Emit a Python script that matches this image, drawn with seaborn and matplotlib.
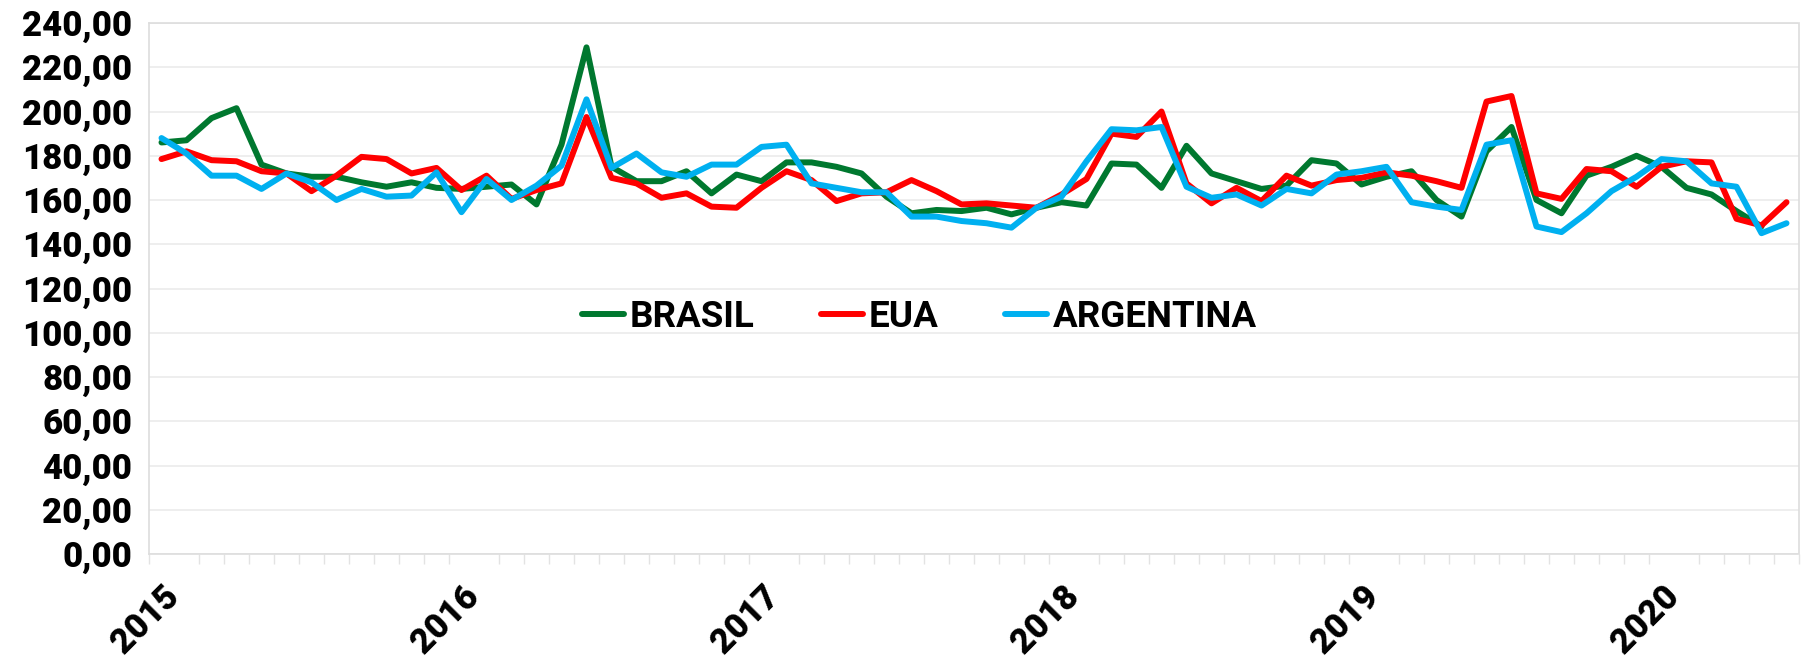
import numpy as np
import pandas as pd
import seaborn as sns
import matplotlib.pyplot as plt
from matplotlib.ticker import FuncFormatter, MultipleLocator

# monthly values, jan/2015 .. jun/2020
brasil = [186, 187, 197, 201.5, 176, 172, 170.5, 170.5, 168, 166, 168, 165.5,
          165, 166, 167, 158, 185, 229, 175, 168.5, 168.5, 173, 163, 171.5,
          168.5, 177, 177, 175, 172, 161.5, 154, 155.5, 155, 156.5, 153.5, 156.5,
          159, 157.5, 176.5, 176, 165.5, 184.5, 172, 168.5, 165, 166.5, 178, 176.5,
          167, 170.5, 173, 160, 152.5, 182, 193, 160, 154, 171, 175, 180,
          175, 165.5, 162.5, 155, 148, np.nan]
eua = [178.5, 182, 178, 177.5, 173, 172, 164, 171, 179.5, 178.5, 172, 174.5,
       164.5, 171, 160.5, 164.5, 167.5, 197.5, 170, 167.5, 161, 163, 157, 156.5,
       165.5, 173, 169, 159.5, 163, 163.5, 169, 164, 158, 158.5, 157.5, 156.5,
       162.5, 169.5, 190, 188.5, 200, 167.5, 158.5, 165.5, 159.5, 171, 166.5, 169,
       170, 172.5, 171, 168.5, 165.5, 204.5, 207, 163, 160.5, 174, 173, 166,
       175, 177.5, 177, 151.5, 148.5, 159]
argentina = [188, 181, 171, 171, 165, 172, 168, 160, 165, 161.5, 162, 172.5,
             154.5, 169.5, 160, 166.5, 175.5, 205.5, 174.5, 181, 172.5, 170.5, 176, 176,
             184, 185, 167.5, 165.5, 163.5, 163.5, 152.5, 152.5, 150.5, 149.5, 147.5, 156.5,
             161.5, 177.5, 192, 191.5, 193, 166, 161, 162.5, 157.5, 165, 163, 171.5,
             173, 175, 159, 157, 155.5, 185, 187, 148, 145.5, 154, 164, 170.5,
             178.5, 177.5, 167.5, 166, 145, 149.5]
anos = ['2015', '2016', '2017', '2018', '2019', '2020']
series = ['BRASIL', 'EUA', 'ARGENTINA']
cores = ['#00782F', '#FF0000', '#00B0F0']

n = len(eua)
df = pd.DataFrame({'mes': np.tile(np.arange(n), 3),
                   'valor': brasil + eua + argentina,
                   'pais': np.repeat(series, n)})

sns.set_style('white')
plt.rcParams['font.family'] = ['Roboto', 'DejaVu Sans']
plt.rcParams['text.color'] = 'black'

fig = plt.figure(figsize=(18.06, 6.57), dpi=100)
ax = fig.add_axes([149 / 1806, 1 - 554 / 657, 1650 / 1806, 531 / 657])

sns.lineplot(data=df, x='mes', y='valor', hue='pais', palette=cores,
             linewidth=4.3, ax=ax)

ax.set_xlim(-0.5, n - 0.5)
ax.set_ylim(0, 240)
ax.yaxis.set_major_locator(MultipleLocator(20))
ax.yaxis.set_major_formatter(FuncFormatter(lambda v, p: f'{v:.2f}'.replace('.', ',')))
ax.grid(axis='y', color='#EBEBEB', linewidth=1.2)
ax.set_axisbelow(True)

# year labels on the boundary after january, month ticks on every boundary
ax.set_xticks([12 * k + 0.5 for k in range(len(anos))])
ax.set_xticklabels(anos, rotation=45, ha='right', va='center', rotation_mode='anchor')
ax.set_xticks(np.arange(n + 1) - 0.5, minor=True)
ax.tick_params(axis='x', which='major', length=0, pad=27, labelsize=25, labelcolor='black')
ax.tick_params(axis='x', which='minor', length=7, width=1, color='#E3E3E3', bottom=True)
ax.tick_params(axis='y', length=0, pad=12, labelsize=25, labelcolor='black')
for t in ax.get_xticklabels() + ax.get_yticklabels():
    t.set_fontweight('black')

for s in ax.spines.values():
    s.set_color('#DDDDDD')
    s.set_linestyle((0, (2, 1)))
    s.set_linewidth(1.2)

ax.set_xlabel('')
ax.set_ylabel('')
leg = ax.legend(loc='center', bbox_to_anchor=(0.467, 0.446), ncol=3, frameon=False,
                fontsize=26.5, handlelength=1.15, handletextpad=0.15, columnspacing=1.8)
for t in leg.get_texts():
    t.set_fontweight('bold')
    t.set_color('black')

fig.savefig('out.png', dpi=100)
